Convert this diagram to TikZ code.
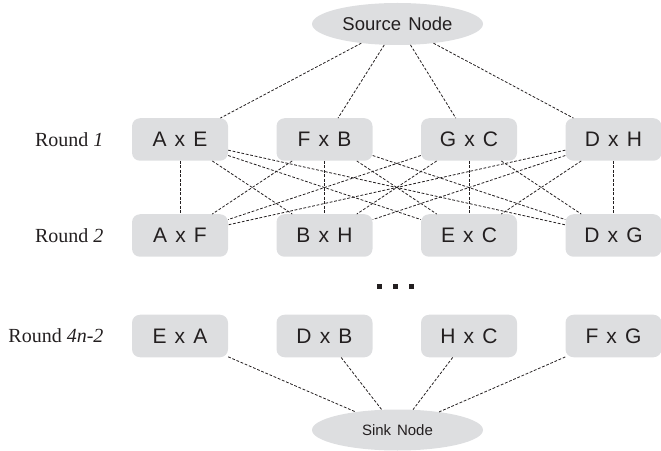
\documentclass[tikz,border=0pt]{standalone}
\usepackage{fontspec}
\setmainfont{Liberation Serif}
\setsansfont{Liberation Sans}[WordSpace=1.4]
\usetikzlibrary{positioning, shapes.geometric}
\definecolor{mBox}{HTML}{DDDEE0}
\definecolor{mInk}{HTML}{231F20}

\begin{document}
\begin{tikzpicture}[
  x=1pt, y=1pt,
  every node/.style={font=\sffamily, text=mInk},
  pairbox/.style={fill=mBox, rounded corners=8pt, minimum width=96pt,
                  minimum height=42.5pt, inner sep=0pt,
                  font=\sffamily\fontsize{21}{25}\selectfont},
  terminal/.style={ellipse, fill=mBox, minimum width=171pt, minimum height=42pt,
                   inner sep=0pt},
  roundlbl/.style={anchor=east, font=\rmfamily\fontsize{20}{24}\selectfont},
  link/.style={mInk, line width=0.8pt, dash pattern=on 2.8pt off 1.7pt},
]
  \useasboundingbox (0,0) rectangle (661,450);

  % Source and sink
  \node[terminal, font=\sffamily\fontsize{18.5}{22}\selectfont] (src) at (397.5,426) {Source Node};
  \node[terminal, minimum height=41pt, font=\sffamily\fontsize{15}{18}\selectfont] (sink) at (397.5,20) {Sink Node};

  % Rounds
  \foreach \lbl [count=\i] in {A x E, F x B, G x C, D x H}
    \node[pairbox] (r1-\i) at ({180+144.5*(\i-1)},310.5) {\lbl};
  \foreach \lbl [count=\i] in {A x F, B x H, E x C, D x G}
    \node[pairbox] (r2-\i) at ({180+144.5*(\i-1)},214.5) {\lbl};
  \foreach \lbl [count=\i] in {E x A, D x B, H x C, F x G}
    \node[pairbox] (r3-\i) at ({180+144.5*(\i-1)},114) {\lbl};

  \node[roundlbl] (lbl1) at (107,310.5) {Round \textit{1}};
  \node[roundlbl] (lbl2) at (107,214.5) {Round \textit{2}};
  \node[roundlbl] (lbl3) at (107,114) {Round \textit{4n-2}};

  % Dots between rounds
  \foreach \x in {379.5, 395.5, 411.5}
    \fill[mInk] (\x-2.5,161) rectangle (\x+2.5,166);

  % Links
  \foreach \i in {1,...,4} {
    \draw[link] (src) -- (r1-\i);
    \draw[link] (r3-\i) -- (sink);
    \foreach \j in {1,...,4}
      \draw[link] (r1-\i) -- (r2-\j);
  }
\end{tikzpicture}
\end{document}
